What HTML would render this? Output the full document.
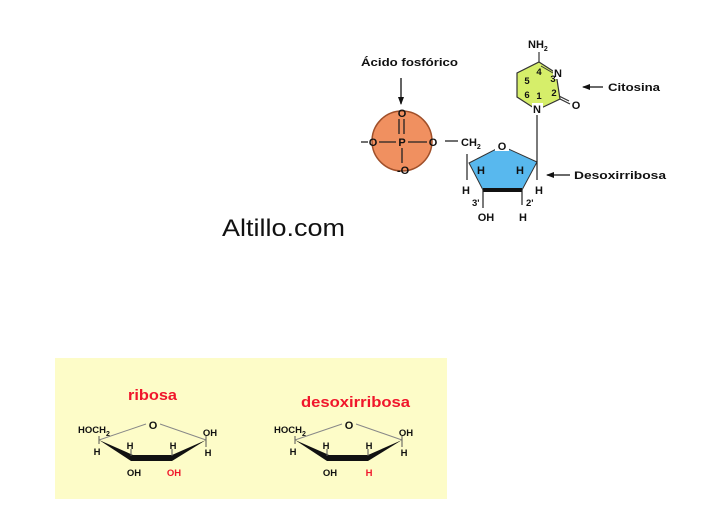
<!DOCTYPE html>
<html><head><meta charset="utf-8"><style>
html,body{margin:0;padding:0;background:#fff;width:718px;height:511px;overflow:hidden}
svg{display:block}
text{font-family:"Liberation Sans",Arial,sans-serif}
.b{font-weight:bold;font-size:11px;fill:#111}
.s{font-weight:bold;font-size:9.5px;fill:#111}
.r{font-weight:bold;fill:#f0162b}
</style></head><body>
<svg width="718" height="511" viewBox="0 0 718 511" xmlns="http://www.w3.org/2000/svg">
<defs><marker id="ah" markerWidth="8" markerHeight="8" refX="7" refY="4" orient="auto" markerUnits="userSpaceOnUse"><path d="M0,1 L8,4 L0,7 Z" fill="#111"/></marker></defs>

<text x="361" y="66" class="b" font-size="12.5" textLength="97" lengthAdjust="spacingAndGlyphs">Ácido fosfórico</text>
<line x1="401" y1="78" x2="401" y2="104" stroke="#111" stroke-width="1.3" marker-end="url(#ah)"/>
<circle cx="402" cy="141" r="30" fill="#f09060" stroke="#a0502a" stroke-width="1.5"/>
<g stroke="#222" stroke-width="1.3">
<line x1="399" y1="119" x2="399" y2="134"/><line x1="404" y1="119" x2="404" y2="134"/>
<line x1="402" y1="148" x2="402" y2="163"/>
<line x1="379" y1="142" x2="396" y2="142"/><line x1="408" y1="142" x2="427" y2="142"/>
<line x1="361" y1="142" x2="368" y2="142"/>
<line x1="445" y1="141" x2="458" y2="141"/>
</g>
<text x="402" y="117" class="b" text-anchor="middle">O</text>
<text x="402" y="146" class="b" text-anchor="middle">P</text>
<text x="373" y="146" class="b" text-anchor="middle">O</text>
<text x="433" y="146" class="b" text-anchor="middle">O</text>
<text x="397" y="174" class="b">-O</text>
<text x="461" y="146" class="b">CH<tspan font-size="7" dy="3">2</tspan></text>

<polygon points="469,163 502,146 537,162 522,190 483,190" fill="#58b8ee" stroke="#333" stroke-width="1"/>
<line x1="483" y1="190" x2="522" y2="190" stroke="#111" stroke-width="4"/>
<rect x="495" y="139" width="14" height="12" fill="#fff"/>
<text x="502" y="150" class="b" text-anchor="middle">O</text>
<g stroke="#222" stroke-width="1.2">
<line x1="467" y1="154" x2="467" y2="180"/>
<line x1="537" y1="108" x2="537" y2="162"/>
<line x1="537" y1="162" x2="537" y2="180"/>
<line x1="483" y1="190" x2="483" y2="208"/>
<line x1="522" y1="190" x2="522" y2="205"/>
</g>
<text x="481" y="174" class="b" text-anchor="middle">H</text>
<text x="520" y="174" class="b" text-anchor="middle">H</text>
<text x="466" y="194" class="b" text-anchor="middle">H</text>
<text x="539" y="194" class="b" text-anchor="middle">H</text>
<text x="472" y="206" class="s" font-size="9">3'</text>
<text x="526" y="206" class="s" font-size="9">2'</text>
<text x="486" y="221" class="b" text-anchor="middle">OH</text>
<text x="523" y="221" class="b" text-anchor="middle">H</text>
<line x1="570" y1="175" x2="547" y2="175" stroke="#111" stroke-width="1.3" marker-end="url(#ah)"/>
<text x="574" y="179" class="b" font-size="12.5" textLength="92" lengthAdjust="spacingAndGlyphs">Desoxirribosa</text>

<polygon points="539,62 556,73 560,99 537,110 517,97 517,73" fill="#d6ee6a" stroke="#333" stroke-width="1.2"/>
<line x1="541" y1="66" x2="553" y2="73" stroke="#333" stroke-width="1"/>
<line x1="539" y1="62" x2="539" y2="52" stroke="#333" stroke-width="1.2"/>
<line x1="560" y1="99" x2="570" y2="104" stroke="#333" stroke-width="1.2"/>
<line x1="559" y1="96" x2="569" y2="101" stroke="#333" stroke-width="1.2"/>
<rect x="553" y="67" width="11" height="12" fill="#fff"/>
<text x="558" y="77" class="b" text-anchor="middle">N</text>
<rect x="532" y="103" width="11" height="12" fill="#fff"/>
<text x="537" y="113" class="b" text-anchor="middle">N</text>
<text x="576" y="109" class="b" text-anchor="middle">O</text>
<text x="528" y="48" class="b">NH<tspan font-size="7" dy="3">2</tspan></text>
<text x="539" y="75" class="s" font-size="8" text-anchor="middle">4</text>
<text x="553" y="82" class="s" font-size="8" text-anchor="middle">3</text>
<text x="527" y="84" class="s" font-size="8" text-anchor="middle">5</text>
<text x="554" y="96" class="s" font-size="8" text-anchor="middle">2</text>
<text x="527" y="98" class="s" font-size="8" text-anchor="middle">6</text>
<text x="539" y="99" class="s" font-size="8" text-anchor="middle">1</text>
<line x1="603" y1="87" x2="583" y2="87" stroke="#111" stroke-width="1.3" marker-end="url(#ah)"/>
<text x="608" y="91" class="b" font-size="12.5" textLength="52" lengthAdjust="spacingAndGlyphs">Citosina</text>

<text x="222" y="236" font-size="24" fill="#111" textLength="123" lengthAdjust="spacingAndGlyphs">Altillo.com</text>

<rect x="55" y="358" width="392" height="141" fill="#fdfcc8"/>
<text x="128" y="400" class="r" font-size="15" textLength="49" lengthAdjust="spacingAndGlyphs">ribosa</text>
<text x="301" y="407" class="r" font-size="15" textLength="109" lengthAdjust="spacingAndGlyphs">desoxirribosa</text>

<g>
<line x1="99" y1="440" x2="146" y2="424" stroke="#888" stroke-width="1"/>
<line x1="160" y1="424" x2="206" y2="440" stroke="#888" stroke-width="1"/>
<polygon points="99,440 133,455 131,461" fill="#111"/>
<rect x="131" y="455" width="41" height="6" fill="#111"/>
<polygon points="172,455 206,440 172,461" fill="#111"/>
<g stroke="#555" stroke-width="1"><line x1="99" y1="436" x2="99" y2="444"/><line x1="131" y1="449" x2="131" y2="456"/><line x1="172" y1="449" x2="172" y2="456"/><line x1="206" y1="436" x2="206" y2="447"/></g>
<text x="153" y="429" class="b" font-size="13" text-anchor="middle">O</text>
<text x="78" y="433" class="s">HOCH<tspan font-size="7" dy="3">2</tspan></text>
<text x="97" y="455" class="s" text-anchor="middle">H</text>
<text x="130" y="449" class="s" text-anchor="middle">H</text>
<text x="173" y="449" class="s" text-anchor="middle">H</text>
<text x="208" y="456" class="s" text-anchor="middle">H</text>
<text x="210" y="436" class="s" text-anchor="middle">OH</text>
<text x="134" y="476" class="s" text-anchor="middle">OH</text>
</g>
<text x="174" y="476" class="r" font-size="9.5" text-anchor="middle">OH</text>

<g transform="translate(196,0)">
<line x1="99" y1="440" x2="146" y2="424" stroke="#888" stroke-width="1"/>
<line x1="160" y1="424" x2="206" y2="440" stroke="#888" stroke-width="1"/>
<polygon points="99,440 133,455 131,461" fill="#111"/>
<rect x="131" y="455" width="41" height="6" fill="#111"/>
<polygon points="172,455 206,440 172,461" fill="#111"/>
<g stroke="#555" stroke-width="1"><line x1="99" y1="436" x2="99" y2="444"/><line x1="131" y1="449" x2="131" y2="456"/><line x1="172" y1="449" x2="172" y2="456"/><line x1="206" y1="436" x2="206" y2="447"/></g>
<text x="153" y="429" class="b" font-size="13" text-anchor="middle">O</text>
<text x="78" y="433" class="s">HOCH<tspan font-size="7" dy="3">2</tspan></text>
<text x="97" y="455" class="s" text-anchor="middle">H</text>
<text x="130" y="449" class="s" text-anchor="middle">H</text>
<text x="173" y="449" class="s" text-anchor="middle">H</text>
<text x="208" y="456" class="s" text-anchor="middle">H</text>
<text x="210" y="436" class="s" text-anchor="middle">OH</text>
<text x="134" y="476" class="s" text-anchor="middle">OH</text>
<text x="173" y="476" class="r" font-size="9.5" text-anchor="middle">H</text>
</g>
</svg>
</body></html>
